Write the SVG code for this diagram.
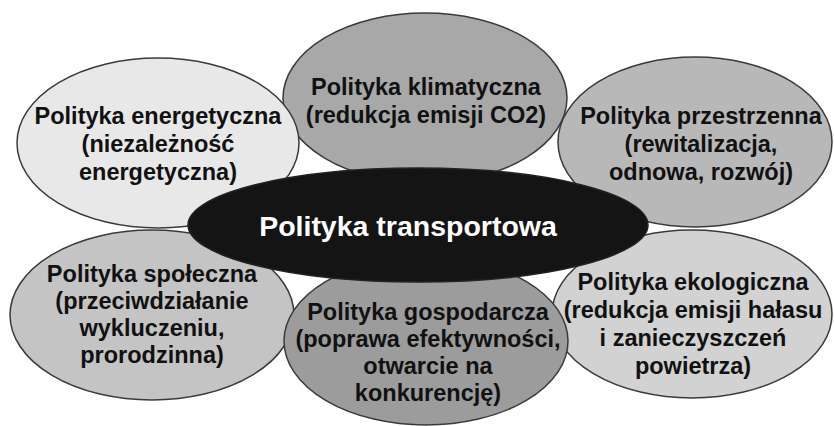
<svg xmlns="http://www.w3.org/2000/svg" width="834" height="426" viewBox="0 0 834 426">
<style>
.e{stroke:#3a3a3a;stroke-width:1.5}
.t{font-family:"Liberation Sans",Arial,sans-serif;font-weight:bold;font-size:23.5px;fill:#111;text-anchor:middle}
.w{font-family:"Liberation Sans",Arial,sans-serif;font-weight:bold;font-size:28.5px;fill:#fff;text-anchor:middle}
</style>
<rect width="834" height="426" fill="#fff"/>
<g id="klimatyczna">
<ellipse class="e" cx="425" cy="98" rx="142" ry="85" fill="#a8a8a8"/>
<text class="t" x="426" y="95">Polityka klimatyczna</text>
<text class="t" x="426" y="123">(redukcja emisji CO2)</text>
</g>
<g id="energetyczna">
<ellipse class="e" cx="158" cy="143" rx="141" ry="85" fill="#e8e8e8"/>
<text class="t" x="158" y="124">Polityka energetyczna</text>
<text class="t" x="158" y="152">(niezależność</text>
<text class="t" x="158" y="180">energetyczna)</text>
</g>
<g id="przestrzenna">
<ellipse class="e" cx="695" cy="142" rx="137" ry="85" fill="#b8b8b8"/>
<text class="t" x="701" y="124">Polityka przestrzenna</text>
<text class="t" x="701" y="152">(rewitalizacja,</text>
<text class="t" x="701" y="180">odnowa, rozwój)</text>
</g>
<g id="spoleczna">
<ellipse class="e" cx="152" cy="315" rx="142" ry="85" fill="#c4c4c4"/>
<text class="t" x="152" y="282">Polityka społeczna</text>
<text class="t" x="152" y="309">(przeciwdziałanie</text>
<text class="t" x="152" y="336">wykluczeniu,</text>
<text class="t" x="152" y="363">prorodzinna)</text>
</g>
<g id="ekologiczna">
<ellipse class="e" cx="692" cy="314" rx="140" ry="84" fill="#d2d2d2"/>
<text class="t" x="693" y="290">Polityka ekologiczna</text>
<text class="t" x="693" y="318">(redukcja emisji hałasu</text>
<text class="t" x="693" y="346">i zanieczyszczeń</text>
<text class="t" x="693" y="374">powietrza)</text>
</g>
<g id="gospodarcza">
<ellipse class="e" cx="426" cy="341" rx="142" ry="84" fill="#9c9c9c"/>
<text class="t" x="428" y="320">Polityka gospodarcza</text>
<text class="t" x="428" y="347">(poprawa efektywności,</text>
<text class="t" x="428" y="374">otwarcie na</text>
<text class="t" x="428" y="401">konkurencję)</text>
</g>
<g id="transportowa">
<ellipse cx="418" cy="225" rx="230" ry="57" fill="#141414" stroke="#222" stroke-width="1.5"/>
<text class="w" x="408" y="236">Polityka transportowa</text>
</g>
<g id="connectors"></g>
</svg>
